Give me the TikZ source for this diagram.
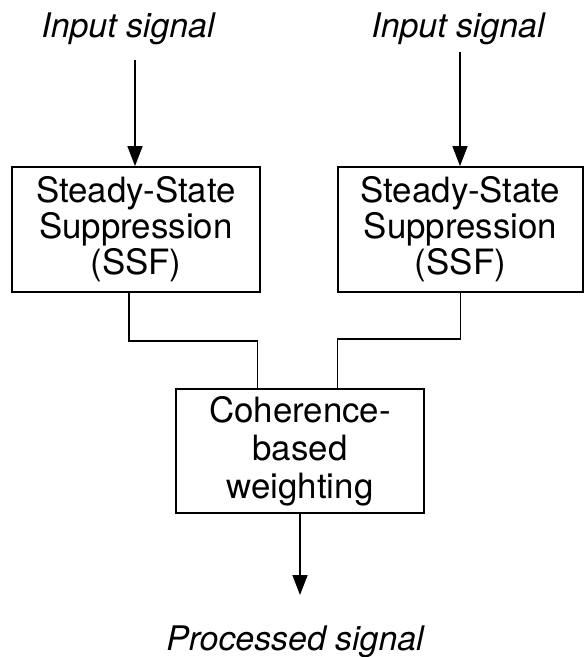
\documentclass[tikz,border=0pt]{standalone}
\usepackage{fontspec}
\setmainfont{TeX Gyre Heros}
\usetikzlibrary{arrows.meta,calc}
\tikzset{
  blockbox/.style={draw, line width=1.8bp, inner sep=0pt, align=center,
    font=\fontsize{35}{36}\selectfont},
  sigtext/.style={anchor=base, font=\fontsize{34}{38}\selectfont\itshape},
  wire/.style={line width=1.6bp},
  arr/.style={line width=1.6bp, -{Triangle[length=20bp,width=15bp]}}
}
\begin{document}
\begin{tikzpicture}[x=1bp, y=-1bp]
  \useasboundingbox (0,0) rectangle (584,657);

  % signal labels
  \node[sigtext] (inL) at (128,38) {Input signal};
  \node[sigtext] (inR) at (458,38) {Input signal};
  \node[sigtext] (out) at (295,650) {Processed signal};

  % processing blocks
  \node[blockbox, minimum width=248bp, minimum height=125bp] (ssfL) at (136,229.5)
    {Steady-State\\Suppression\\(SSF)};
  \node[blockbox, minimum width=245bp, minimum height=125bp] (ssfR) at (460.5,229.5)
    {Steady-State\\Suppression\\(SSF)};
  \node[blockbox, minimum width=248bp, minimum height=124bp,
        font=\fontsize{35}{38}\selectfont] (coh) at (300,451)
    {Coherence-\\based\\weighting};

  % arrow start and end points
  \coordinate (srcL) at (135,60);
  \coordinate (srcR) at (460,52);
  \coordinate (sink) at (300,595);

  % inputs into the suppression blocks
  \draw[arr] (srcL) -- (srcL |- ssfL.north);
  \draw[arr] (srcR) -- (srcR |- ssfR.north);

  % suppression outputs joined into the weighting block
  \draw[wire] ([xshift=-7bp]ssfL.south) -- ++(0,48)
    -| ($(coh.north west)!0.33!(coh.north east)$);
  \draw[wire] (ssfR.south) -- ++(0,46)
    -| ($(coh.north west)!0.65!(coh.north east)$);

  % processed output
  \draw[arr] (coh.south) -- (sink);
\end{tikzpicture}
\end{document}
